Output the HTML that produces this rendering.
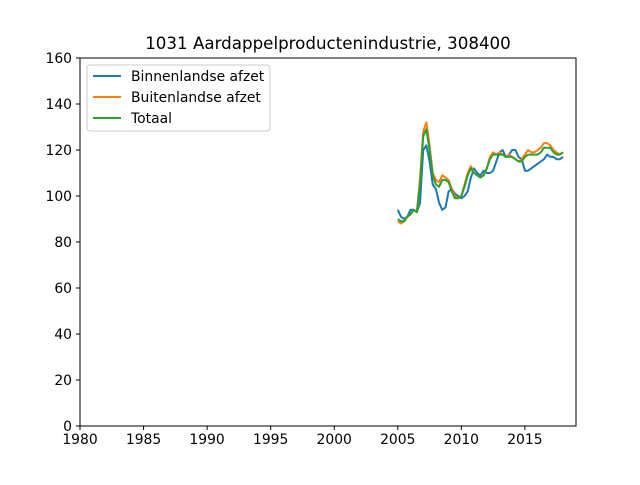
<!DOCTYPE html>
<html><head><meta charset="utf-8"><style>
body{margin:0;background:#fff}
svg{font-family:"DejaVu Sans","Liberation Sans",sans-serif}
</style></head><body>
<svg id="chart" width="640" height="480">
<rect width="640" height="480" fill="#fff"/>
<text x="328" y="49" text-anchor="middle" font-size="16.7">1031 Aardappelproductenindustrie, 308400</text>
<g id="axes"></g>
<g id="series"></g>
<rect x="80" y="58" width="496" height="368" fill="none" stroke="#000" stroke-width="1"/>
<g>
<rect x="87" y="65" width="183" height="66" rx="3" fill="#fff" fill-opacity="0.8" stroke="#ccc"/>
<g><line x1="93" y1="76" x2="121" y2="76" stroke="#1f77b4" stroke-width="2"/><text x="131" y="81" font-size="13.9">Binnenlandse afzet</text></g>
<g><line x1="93" y1="97" x2="121" y2="97" stroke="#ff7f0e" stroke-width="2"/><text x="131" y="102" font-size="13.9">Buitenlandse afzet</text></g>
<g><line x1="93" y1="118" x2="121" y2="118" stroke="#2ca02c" stroke-width="2"/><text x="131" y="123" font-size="13.9">Totaal</text></g>
</g>
</svg>
<script>
const xTicks=[1980,1985,1990,1995,2000,2005,2010,2015];
const yTicks=[0,20,40,60,80,100,120,140,160];
const startYear=2005, step=0.25;
const binnen=[94,91,90,91,94,94,93,97,120,122,115,105,103,97,94,95,102,103,101,100,99,100,102,108,112,110,109,111,110,110,111,115,119,120,117,118,120,120,117,116,111,111,112,113,114,115,116,118,117,117,116,116,117];
const buiten=[89,88,89,91,92,94,93,108,128,132,122,110,107,106,109,108,107,103,100,99,100,105,110,113,110,109,108,109,112,117,119,118,119,118,117,118,117,116,115,116,118,120,119,119,120,121,123,123,122,120,119,118,119];
const totaal=[90,89,89,91,92,94,93,105,126,129,120,109,105,104,107,107,106,102,99,99,100,104,109,112,110,109,108,109,112,116,118,118,118,118,117,117,117,116,115,115,117,118,118,118,118,119,121,121,121,119,118,118,119];
const NS="http://www.w3.org/2000/svg";
const X=v=>80+(v-1980)*(496/39.02);
const Y=v=>426-v*(368/160);
const axes=document.getElementById('axes');
xTicks.forEach(t=>{
 const l=document.createElementNS(NS,'line');
 l.setAttribute('x1',X(t));l.setAttribute('x2',X(t));l.setAttribute('y1',426);l.setAttribute('y2',430);l.setAttribute('stroke','#000');
 
 
 axes.appendChild(l);
 const tx=document.createElementNS(NS,'text');
 tx.setAttribute('x',X(t));tx.setAttribute('y',444);tx.setAttribute('text-anchor','middle');tx.setAttribute('font-size','13.9');tx.textContent=t;
 
 
 axes.appendChild(tx);
});
yTicks.forEach(t=>{
 const l=document.createElementNS(NS,'line');
 l.setAttribute('x1',76);l.setAttribute('x2',80);l.setAttribute('y1',Y(t));l.setAttribute('y2',Y(t));l.setAttribute('stroke','#000');
 
 
 axes.appendChild(l);
 const tx=document.createElementNS(NS,'text');
 tx.setAttribute('x',72);tx.setAttribute('y',Y(t)+5);tx.setAttribute('text-anchor','end');tx.setAttribute('font-size','13.9');tx.textContent=t;
 
 
 axes.appendChild(tx);
});
const sg=document.getElementById('series');
[[binnen,'#1f77b4','line-binnenlandse-afzet'],[buiten,'#ff7f0e','line-buitenlandse-afzet'],[totaal,'#2ca02c','line-totaal']].forEach(([d,c,n])=>{
 const p=document.createElementNS(NS,'polyline');
 p.setAttribute('points',d.map((v,i)=>X(startYear+i*step)+','+Y(v)).join(' '));
 p.setAttribute('fill','none');p.setAttribute('stroke',c);p.setAttribute('stroke-width','2');p.setAttribute('stroke-linejoin','round');
 
 
 sg.appendChild(p);
});
</script>
</body></html>
